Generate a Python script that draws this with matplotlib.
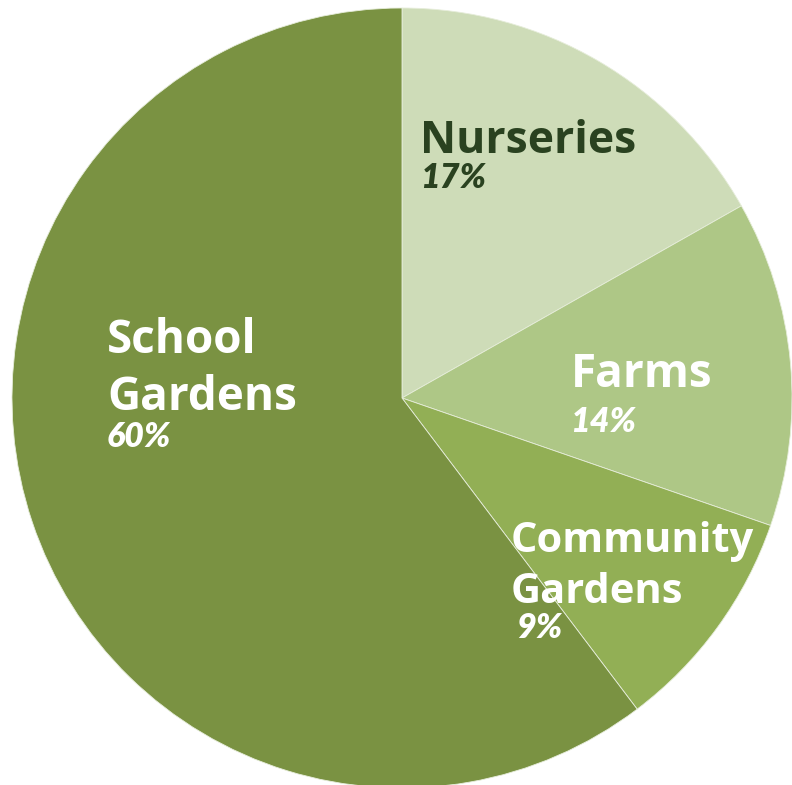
import matplotlib
matplotlib.use("Agg")
import matplotlib.pyplot as plt

categories = ["Nurseries", "Farms", "Community Gardens", "School Gardens"]
values = [16.8, 13.5, 9.4, 60.3]
pct_labels = ["17%", "14%", "9%", "60%"]
colors = ["#CEDCB8", "#AEC786", "#92AF55", "#7A9242"]

W, H = 792, 785
fig = plt.figure(figsize=(W / 100, H / 100), dpi=100)
ax = fig.add_axes([0, 0, 1, 1])
cx, cy, r = 402, H - 398, 390
ax.pie(values, startangle=90, counterclock=False, colors=colors,
       center=(cx, cy), radius=r,
       wedgeprops=dict(edgecolor="#E6EDDA", linewidth=0.6))
ax.set_xlim(0, W)
ax.set_ylim(0, H)
ax.set_aspect("auto")
ax.set_axis_off()

dark = "#2A4220"
white = "white"

def lbl(x, y, s, size, color, italic=False):
    if italic:
        ax.text(x, H - y, s, fontsize=size, color=color, family="Lato",
                weight="heavy", style="italic", ha="left", va="baseline")
    else:
        ax.text(x, H - y, s, fontsize=size, color=color, family="Open Sans",
                weight="bold", ha="left", va="baseline")

# Nurseries
lbl(420, 153, "Nurseries", 32, dark)
lbl(420, 188, pct_labels[0], 24.5, dark, italic=True)
# Farms
lbl(571, 387, "Farms", 33, white)
lbl(570, 432, pct_labels[1], 24.5, white, italic=True)
# Community Gardens
lbl(511, 552, "Community", 30, white)
lbl(511, 603, "Gardens", 30, white)
lbl(516, 638, pct_labels[2], 24.5, white, italic=True)
# School Gardens
lbl(107, 353, "School", 33, white)
lbl(107, 410, "Gardens", 33, white)
lbl(107, 447, pct_labels[3], 24.5, white, italic=True)

fig.savefig("out.png", dpi=100)
